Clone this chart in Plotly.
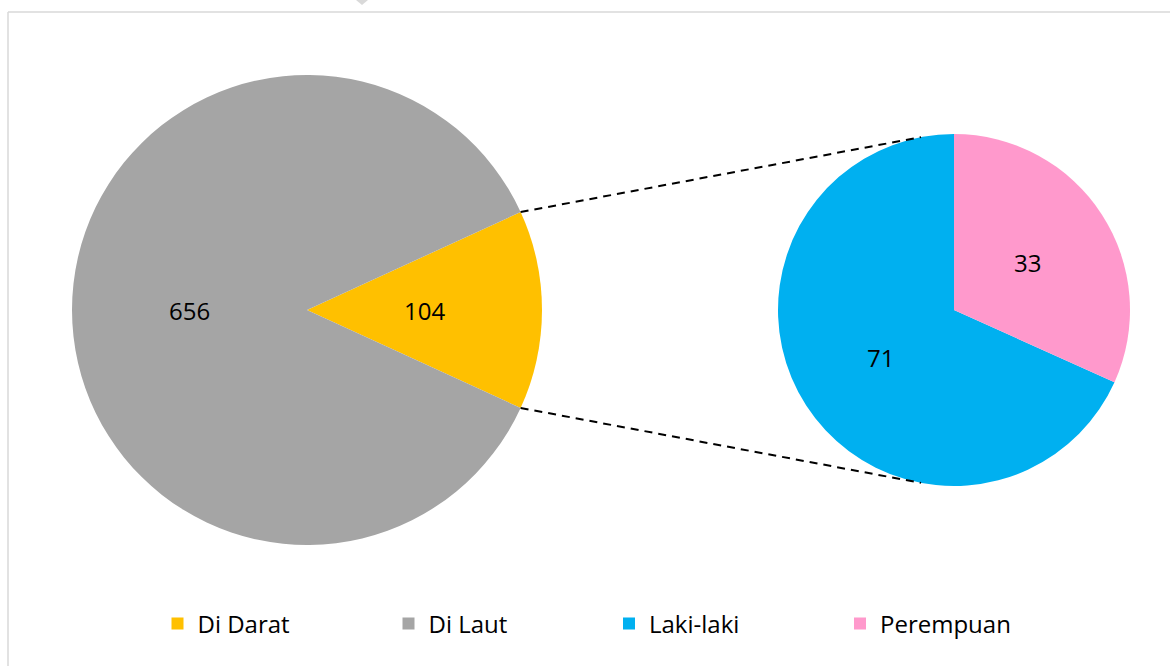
import math
import plotly.graph_objects as go

# ---- data ----
main_labels = ["Di Darat", "Di Laut"]
main_values = [104, 656]
sub_labels = ["Laki-laki", "Perempuan"]
sub_values = [71, 33]

main_colors = ["#FFC000", "#A5A5A5"]
sub_colors = ["#00B0F0", "#FF99CC"]

W, H = 1170, 666
FONT = "Open Sans"

# layout geometry (pixels)
L_CX, L_CY, L_R = 307, 310, 235
R_CX, R_CY, R_R = 954, 310, 176


def xd(px):
    return px / W


def yd(py):
    return 1 - py / H


main_total = sum(main_values)
sub_total = sum(sub_values)
darat_angle = 360 * main_values[0] / main_total
# plotly: angles clockwise from 12 o'clock; with 'counterclockwise' the first
# slice spans [rotation, rotation + its angle]
rot_main = 90 - darat_angle / 2          # first slice centred at 3 o'clock
rot_sub = 360 * sub_values[1] / sub_total  # second slice ends at 12 o'clock

fig = go.Figure()
fig.add_trace(go.Pie(
    labels=main_labels, values=main_values, sort=False,
    direction="counterclockwise", rotation=rot_main,
    marker=dict(colors=main_colors, line=dict(width=0)),
    textinfo="none",
    domain=dict(x=[xd(L_CX - L_R), xd(L_CX + L_R)], y=[yd(L_CY + L_R), yd(L_CY - L_R)]),
    legend="legend", hoverinfo="label+value",
))
fig.add_trace(go.Pie(
    labels=sub_labels, values=sub_values, sort=False,
    direction="counterclockwise", rotation=rot_sub,
    marker=dict(colors=sub_colors, line=dict(width=0)),
    textinfo="none",
    domain=dict(x=[xd(R_CX - R_R), xd(R_CX + R_R)], y=[yd(R_CY + R_R), yd(R_CY - R_R)]),
    legend="legend2", hoverinfo="label+value",
))


def slice_labels(values, rotation, cx, cy, r):
    """value labels at half radius on each slice's mid-angle (same layout as the pie)."""
    anns = []
    total = sum(values)
    start = rotation
    for v in values:
        span = 360 * v / total
        mid = math.radians(start + span / 2)
        px = cx + 0.5 * r * math.sin(mid)
        py = cy - 0.5 * r * math.cos(mid)
        anns.append(dict(x=xd(px), y=yd(py), xref="paper", yref="paper",
                         text=str(v), showarrow=False, xanchor="center", yanchor="middle",
                         font=dict(family=FONT, size=24, color="#000000")))
        start += span
    return anns


annotations = slice_labels(main_values, rot_main, L_CX, L_CY, L_R) + \
    slice_labels(sub_values, rot_sub, R_CX, R_CY, R_R)

# connector lines from the edges of the first slice to the second pie
half = math.radians(darat_angle / 2)
sx = L_CX + L_R * math.cos(half)
sy_top = L_CY - L_R * math.sin(half)
sy_bot = L_CY + L_R * math.sin(half)
end_ang = math.radians(10.8)
ex = R_CX - R_R * math.sin(end_ang)
ey_top = R_CY - R_R * math.cos(end_ang)
ey_bot = R_CY + R_R * math.cos(end_ang)

shapes = []
for y0, y1 in [(sy_top, ey_top), (sy_bot, ey_bot)]:
    shapes.append(dict(type="line", xref="paper", yref="paper",
                       x0=xd(sx), y0=yd(y0), x1=xd(ex), y1=yd(y1),
                       line=dict(color="#000000", width=2, dash="8px,6px")))

# chart frame (top and left edges visible)
shapes.append(dict(type="line", xref="paper", yref="paper", x0=xd(8), y0=yd(12), x1=1.0, y1=yd(12),
                   line=dict(color="#D9D9D9", width=1.5)))
shapes.append(dict(type="line", xref="paper", yref="paper", x0=xd(8), y0=yd(12), x1=xd(8), y1=0.0,
                   line=dict(color="#D9D9D9", width=1.5)))
# small notch at the top
shapes.append(dict(type="path", xref="paper", yref="paper",
                   path=f"M {xd(356)},{yd(0)} L {xd(368)},{yd(0)} L {xd(362)},{yd(5)} Z",
                   fillcolor="#D9D9D9", line=dict(width=0)))

legend_common = dict(orientation="h", yanchor="middle", xanchor="left",
                     font=dict(family=FONT, size=24, color="#000000"),
                     entrywidth=186, entrywidthmode="pixels",
                     bgcolor="rgba(0,0,0,0)", borderwidth=0, itemclick=False, itemdoubleclick=False)

fig.update_layout(
    width=W, height=H,
    margin=dict(l=0, r=0, t=0, b=0),
    paper_bgcolor="white", plot_bgcolor="white",
    font=dict(family=FONT, size=24, color="#000000"),
    shapes=shapes,
    annotations=annotations,
    showlegend=True,
    legend=dict(x=xd(179.5 - 22), y=yd(624), **legend_common),
    legend2=dict(x=xd(631 - 22), y=yd(624), **legend_common),
)

fig.write_html("out.html", config={"displayModeBar": False},
               post_script="document.body.style.margin='0';")
